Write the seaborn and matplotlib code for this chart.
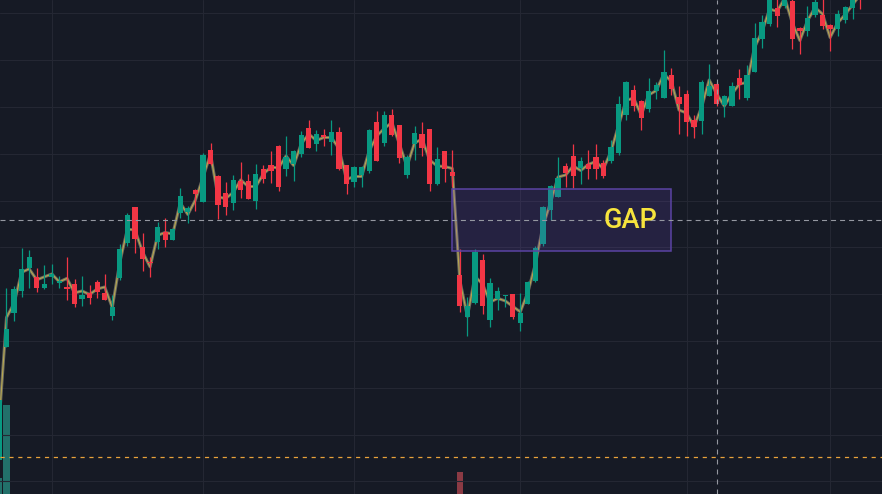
import numpy as np
import pandas as pd
import seaborn as sns
import matplotlib.pyplot as plt
from matplotlib.patches import Rectangle

# OHLC (one candle per bar, left to right)
opens = [104.0, 115.33, 118.67, 120.93, 123.2, 122.27, 121.23, 122.3, 121.73, 121.2,
         121.6, 120.1, 120.73, 121.8, 120.73, 118.4, 122.23, 125.67, 129.3, 125.3,
         123.8, 125.83, 126.8, 126.0, 128.7, 128.8, 131.0, 129.8, 135.0, 132.4,
         130.7, 129.7, 131.9, 131.9, 129.9, 133.1, 133.5, 135.4, 133.1, 133.6,
         134.6, 137.2, 135.6, 136.5, 135.8, 136.8, 133.5, 131.8, 132.5, 132.9,
         137.8, 135.7, 138.5, 137.5, 132.5, 135.6, 136.6, 137.1, 131.6, 134.9,
         132.8, 122.5, 118.33, 119.73, 124.0, 118.03, 120.13, 120.4, 120.6, 117.73,
         119.63, 121.93, 125.6, 129.03, 130.3, 133.4, 134.4, 133.2, 133.6, 134.3,
         133.7, 133.9, 134.7, 138.5, 141.0, 139.9, 139.1, 140.9, 140.2, 142.5,
         140.3, 140.6, 138.0, 137.9, 140.4, 141.6, 139.5, 139.4, 142.2, 140.2,
         142.8, 146.1, 147.6, 149.2, 149.4, 149.9, 147.2, 146.9, 148.5, 148.5,
         147.5, 147.1, 148.0, 149.2, 151.2]
highs = [112.0, 121.2, 121.4, 125.2, 125.0, 123.2, 123.5, 123.6, 122.4, 124.33,
         122.1, 122.4, 121.5, 122.0, 122.6, 120.5, 125.6, 128.7, 129.3, 126.7,
         124.3, 127.83, 128.2, 127.2, 131.2, 129.4, 131.1, 134.7, 135.7, 132.5,
         131.8, 132.5, 133.8, 132.6, 133.6, 133.5, 134.9, 135.5, 136.4, 135.0,
         136.9, 138.0, 137.0, 137.1, 138.0, 137.3, 133.5, 133.4, 133.4, 137.1,
         138.9, 138.9, 139.1, 137.5, 134.5, 137.4, 137.8, 137.1, 135.3, 134.9,
         135.0, 125.07, 120.33, 125.1, 124.6, 122.23, 121.3, 120.5, 120.6, 120.7,
         121.9, 125.4, 129.4, 131.5, 134.3, 133.7, 135.6, 134.3, 135.0, 135.6,
         134.0, 136.0, 140.4, 141.9, 141.5, 140.0, 142.2, 141.8, 145.0, 143.2,
         141.4, 141.0, 138.5, 142.0, 143.6, 141.8, 140.5, 141.8, 143.1, 143.5,
         147.7, 148.5, 150.8, 150.4, 151.2, 150.3, 147.3, 149.4, 150.2, 150.1,
         147.6, 149.0, 149.4, 151.0, 152.0]
lows = [103.0, 115.3, 117.93, 120.33, 121.23, 120.83, 121.13, 121.6, 121.23, 120.0,
        119.33, 119.4, 119.6, 120.2, 120.0, 118.0, 122.0, 125.43, 124.73, 122.93,
        122.33, 125.1, 125.3, 126.0, 128.2, 127.7, 128.9, 129.8, 133.5, 128.1,
        128.5, 129.0, 130.2, 130.1, 129.1, 131.7, 131.7, 130.9, 132.4, 131.9,
        134.3, 135.2, 134.9, 135.4, 134.5, 133.0, 130.6, 131.3, 131.3, 132.7,
        133.9, 135.4, 136.4, 133.7, 132.2, 134.0, 134.4, 130.9, 131.5, 131.8,
        131.3, 118.83, 116.4, 119.6, 118.6, 117.33, 119.03, 119.33, 118.13, 116.93,
        119.6, 121.83, 125.4, 128.0, 130.3, 131.3, 131.2, 131.6, 132.1, 132.1,
        132.2, 133.7, 134.5, 138.0, 138.9, 137.0, 138.8, 140.1, 140.2, 140.5,
        136.6, 136.4, 136.2, 136.6, 140.4, 139.4, 138.3, 139.4, 140.1, 140.0,
        142.8, 145.2, 147.4, 147.3, 149.2, 145.1, 144.6, 146.4, 148.3, 147.1,
        144.9, 146.4, 147.7, 148.1, 149.1]
closes = [110.0, 117.1, 121.1, 123.1, 124.3, 121.23, 121.6, 122.6, 121.83, 121.13,
          119.6, 120.5, 120.2, 120.8, 120.0, 119.33, 125.1, 128.5, 126.1, 124.1,
          123.67, 127.3, 126.0, 127.1, 130.4, 129.2, 130.6, 134.5, 133.6, 129.5,
          129.3, 132.0, 131.0, 130.1, 132.6, 132.1, 132.9, 131.3, 134.3, 134.9,
          136.5, 135.2, 136.6, 136.3, 136.8, 133.1, 131.6, 133.3, 133.3, 137.0,
          133.9, 138.5, 136.5, 134.2, 134.3, 136.7, 135.2, 131.6, 134.1, 133.1,
          132.43, 119.43, 119.43, 124.83, 119.43, 121.7, 120.9, 120.5, 118.33, 118.73,
          121.8, 125.2, 129.3, 131.4, 132.2, 132.7, 132.4, 133.9, 133.1, 133.1,
          132.4, 135.3, 139.6, 141.8, 139.4, 138.2, 140.9, 141.5, 142.8, 141.1,
          139.6, 137.8, 137.3, 141.8, 141.4, 139.6, 140.4, 141.4, 141.5, 142.5,
          146.2, 147.8, 150.2, 148.4, 150.6, 146.1, 146.9, 148.2, 149.8, 147.4,
          147.1, 148.6, 149.3, 150.4, 150.3]
volumes = [90, 250, 48, 36, 30, 22, 18, 20, 16, 24,
           28, 19, 17, 21, 15, 30, 44, 40, 35, 26,
           18, 25, 20, 14, 33, 19, 17, 38, 32, 29,
           26, 24, 21, 22, 27, 15, 18, 31, 20, 22,
           26, 24, 17, 12, 21, 30, 26, 19, 13, 28,
           34, 30, 22, 29, 23, 20, 22, 34, 27, 21,
           16, 103, 38, 42, 40, 35, 18, 13, 25, 27,
           30, 33, 36, 32, 22, 14, 20, 12, 14, 16,
           13, 18, 39, 30, 21, 23, 25, 14, 32, 19,
           20, 27, 15, 34, 24, 22, 13, 19, 16, 22,
           40, 29, 31, 20, 15, 33, 16, 21, 18, 17,
           23, 19, 18, 22, 20]

# session ticks (bar index) and annotations
date_ticks = [7, 27, 47, 69, 91, 110]
gap_start, gap_end = 60, 89
gap_top, gap_bottom = 131.07, 124.87
cross_bar, cross_price = 95, 128.0
alert_price = 104.3

BG = "#161a25"
UP, DOWN = "#089981", "#f23645"
UP_VOL, DOWN_VOL = "#22706a", "#8b3a44"

df = pd.DataFrame({"open": opens, "high": highs, "low": lows,
                   "close": closes, "volume": volumes})
df["bar"] = np.arange(len(df))
df["up"] = df["close"] >= df["open"]
df["mid"] = (df["high"] + df["low"]) / 2

sns.set_theme(style="dark", rc={"axes.facecolor": BG, "figure.facecolor": BG,
                                "lines.scale_dashes": False})
plt.rcParams["font.family"] = ["Roboto", "DejaVu Sans"]

fig = plt.figure(figsize=(8.82, 4.94), dpi=100)
ax = fig.add_axes([0, 0, 1, 1])

# volume on its own scale, only the heavy bars reach into view
ax2 = ax.twinx()
ax2.bar(df["bar"], df["volume"], width=0.85, linewidth=0,
        color=np.where(df["up"], UP_VOL, DOWN_VOL), zorder=1)
ax2.set_ylim(54.7, 1138.5)
ax2.set_axis_off()
ax.set_zorder(ax2.get_zorder() + 1)
ax.patch.set_visible(False)
fig.patch.set_facecolor(BG)

# mid-price line under the candles
sns.lineplot(data=df, x="bar", y="mid", ax=ax, color="#8a8776", lw=2.2,
             alpha=0.75, zorder=2)
sns.lineplot(data=df, x="bar", y="mid", ax=ax, color="#c4b24c", lw=0.8,
             alpha=0.85, zorder=2)

colors = np.where(df["up"], UP, DOWN)
ax.vlines(df["bar"], df["low"], df["high"], colors=colors, lw=0.9, zorder=3)
body_low = df[["open", "close"]].min(axis=1)
body_h = (df["close"] - df["open"]).abs().clip(lower=0.12)
ax.bar(df["bar"], body_h, bottom=body_low, width=0.7, color=colors,
       linewidth=0, zorder=3)

ax.add_patch(Rectangle((gap_start, gap_bottom), gap_end - gap_start,
                       gap_top - gap_bottom, facecolor=(0.45, 0.3, 0.8, 0.17),
                       edgecolor="#5a43a3", lw=1.1, zorder=4))
ax.text(gap_end - 1.9, (gap_top + gap_bottom) / 2, "GAP", color="#f7e43c",
        fontsize=19.5, fontweight="medium", ha="right", va="center", zorder=5)

ax.axhline(cross_price, color="#9598a1", lw=0.8, dashes=(3.6, 2.9), zorder=4)
ax.axvline(cross_bar, color="#9598a1", lw=0.8, dashes=(3.6, 3.6), zorder=4)
ax.axhline(alert_price, color="#e9a23b", lw=0.9, dashes=(3.0, 3.4), zorder=4)

ax.set_xlim(0.14, 116.87)
ax.set_ylim(100.6, 150)
ax.set_xticks(date_ticks)
ax.set_yticks(np.arange(148.67, 100, -4.68))
ax.tick_params(length=0, labelbottom=False, labelleft=False)
ax.grid(True, color="#242733", lw=0.8)
ax.set_xlabel("")
ax.set_ylabel("")
for s in ax.spines.values():
    s.set_visible(False)

fig.savefig("out.png", dpi=100, facecolor=BG)
